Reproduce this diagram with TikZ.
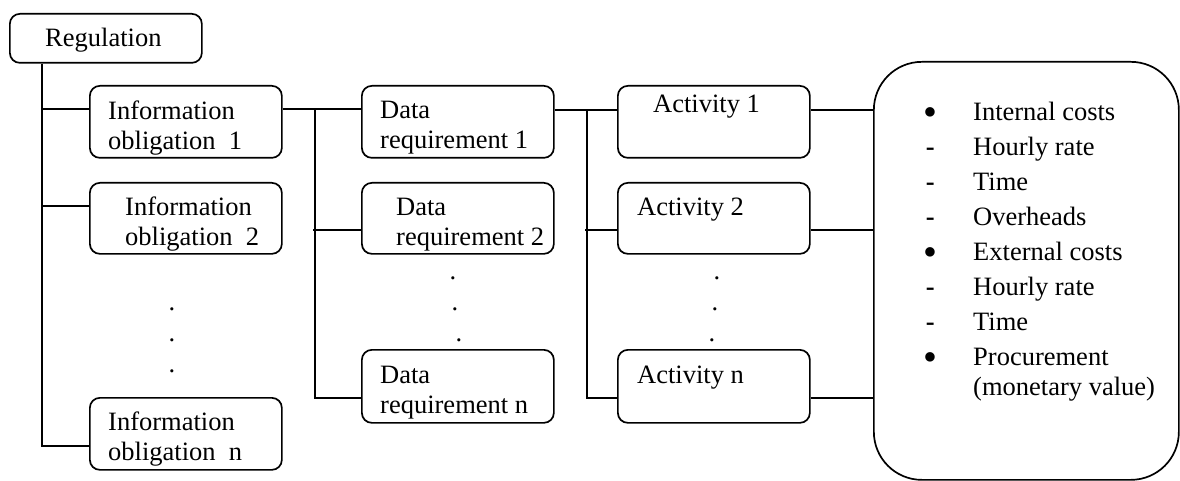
\documentclass[tikz,border=0pt]{standalone}
\usepackage{fontspec}
\setmainfont{Liberation Serif}
\newcommand\twoline[2]{\begin{tabular}[t]{@{}l@{}}#1\\#2\end{tabular}}
\newcommand\bul{\makebox[20pt]{\raisebox{-5pt}{\scalebox{1.5}{•}}}}
\newcommand\hyp{\makebox[20pt]{\textbf{-}}}
\begin{document}
\begin{tikzpicture}[x=1pt,y=-1pt,
  box/.style={draw,line width=1.7pt,rounded corners=10pt,minimum width=192pt,minimum height=72pt,inner sep=0pt,anchor=north west},
  txt/.style={anchor=base west,inner sep=0pt,font=\fontsize{26.5}{30}\selectfont},
  dotnode/.style={inner sep=0pt,font=\fontsize{26.5}{30}\selectfont},
  conn/.style={line width=1.7pt}]
\useasboundingbox (0,0) rectangle (1180,481);

% boxes
\node[box,minimum height=49pt] (reg) at (9,13) {};
\node[box] (io1) at (89,85) {};
\node[box,minimum height=71pt] (io2) at (89,182) {};
\node[box] (ion) at (89,397) {};
\node[box] (d1) at (361,85) {};
\node[box,minimum height=71pt] (d2) at (361,182) {};
\node[box,minimum height=73pt] (dn) at (361,349) {};
\node[box] (a1) at (617,85) {};
\node[box,minimum height=71pt] (a2) at (617,182) {};
\node[box,minimum height=73pt] (an) at (617,349) {};
\node[box,rounded corners=48pt,minimum width=305pt,minimum height=418pt] (big) at (873,61) {};

% texts
\node[txt] (regt) at (45,47) {Regulation};
\node[txt] (io1t) at (108,120) {\twoline{Information}{obligation\ \ 1}};
\node[txt] (io2t) at (125,215) {\twoline{Information}{obligation\ \ 2}};
\node[txt] (iont) at (108,430) {\twoline{Information}{obligation\ \ n}};
\node[txt] (d1t) at (380,119) {\twoline{Data}{requirement 1}};
\node[txt] (d2t) at (396,215) {\twoline{Data}{requirement 2}};
\node[txt] (dnt) at (380,383) {\twoline{Data}{requirement n}};
\node[txt] (a1t) at (653,113) {Activity 1};
\node[txt] (a2t) at (637,215) {Activity 2};
\node[txt] (ant) at (637,383) {Activity n};

\node[anchor=base west,inner sep=0pt,font=\fontsize{26.5}{35}\selectfont] (list) at (920,121)
 {\begin{tabular}[t]{@{}l@{\hspace{33pt}}l@{}}
  \bul & Internal costs\\
  \hyp & Hourly rate\\
  \hyp & Time\\
  \hyp & Overheads\\
  \bul & External costs\\
  \hyp & Hourly rate\\
  \hyp & Time\\
  \bul & Procurement\\[-5pt]
   & (monetary value)
 \end{tabular}};

% dots
\node[dotnode] (dio1) at (172,309) {.};
\node[dotnode] (dio2) at (172,340) {.};
\node[dotnode] (dio3) at (172,371) {.};
\node[dotnode] (dd1) at (453,278) {.};
\node[dotnode] (dd2) at (455,309) {.};
\node[dotnode] (dd3) at (459,340) {.};
\node[dotnode] (da1) at (717,278) {.};
\node[dotnode] (da2) at (715,309) {.};
\node[dotnode] (da3) at (712,340) {.};

% connectors
\draw[conn] ([xshift=-64pt]reg.south) |- ([yshift=-12pt]ion.west);
\draw[conn] ([yshift=13pt]io1.west) -- ++(-48pt,0);
\draw[conn] ([yshift=12.5pt]io2.west) -- ++(-48pt,0);

\draw[conn] ([yshift=13pt]io1.east) -- ([yshift=13pt]d1.west);
\draw[conn] ([yshift=13pt]io1.east) ++(32pt,0) |- ([yshift=-11.5pt]dn.west);
\draw[conn] ([yshift=-11.5pt]d2.west) -- ++(-48pt,0);

\draw[conn] ([yshift=12pt]d1.east) -- ([yshift=12pt]a1.west);
\draw[conn] ([yshift=12pt]d1.east) ++(32pt,0) |- ([yshift=-11.5pt]an.west);
\draw[conn] ([yshift=-11.5pt]a2.west) -- ++(-32pt,0);

\draw[conn] ([yshift=12pt]a1.east) -- ([yshift=12pt]a1.east -| big.west);
\draw[conn] ([yshift=-11.5pt]a2.east) -- ([yshift=-11.5pt]a2.east -| big.west);
\draw[conn] ([yshift=-11.5pt]an.east) -- ([yshift=-11.5pt]an.east -| big.west);
\end{tikzpicture}
\end{document}
